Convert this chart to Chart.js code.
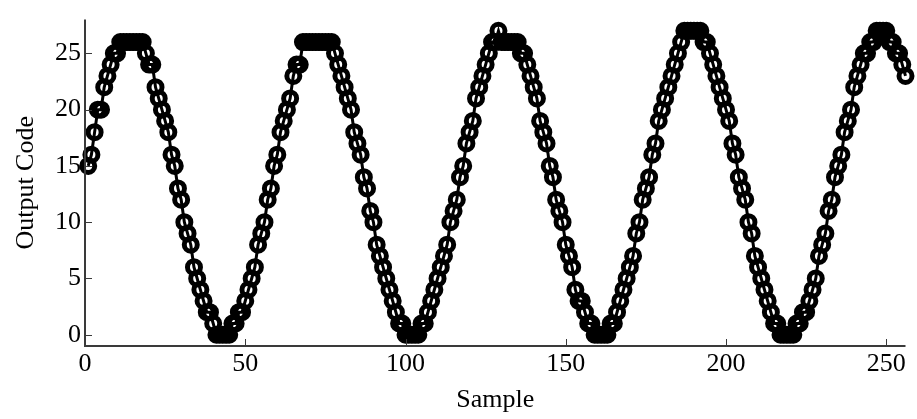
<!DOCTYPE html>
<html>
<head>
<meta charset="utf-8">
<script src="https://cdn.jsdelivr.net/npm/chart.js@4.4.0/dist/chart.umd.min.js"></script>
<style>
  html, body { margin: 0; padding: 0; background: #ffffff; }
  #wrap { width: 917px; height: 419px; }
</style>
</head>
<body>
<div id="wrap"><canvas id="c" width="917" height="419"></canvas></div>
<script>
// Output codes, samples 1..256
const codesA = [15,16,18,20,20,22,23,24,25,25,26,26,26,26];
const codesB = [26,26,26,26,25,24,24,22,21,20,19,18,16,15,13,12,10,9,8,6,5,4,3,2,2,1,0,0,0,0,0,1,1,2,2,3,4,5,6,8,9,10,12,13,15,16,18,19,20,21,23,24,24,26,26,26,26,26];
const codesC = [26,26,26,26,26,25,24,23,22,21,20,18,17,16,14,13,11,10,8,7,6,5,4,3,2,1,1,0,0,0,0,0,1,1,2,3,4,5,6,7,8,10,11,12,14,15,17,18,19,21,22,23,24,25,26,26,27,26,26];
const codesD = [26,26,26,26,25,25,24,23,22,21,19,18,17,15,14,12,11,10,8,7,6,4,3,3,2,1,1,0,0,0,0,0,1,1,2,3,4,5,6,7,9,10,12,13,14,16,17,19,20,21,22,23,24,25,26,27,27,27,27];
const codesE = [27,27,26,26,25,24,23,22,21,20,19,17,16,14,13,12,10,9,7,6,5,4,3,2,1,1,0,0,0,0,0,1,1,2,2,3,4,5,7,8,9,11,12,14,15,16,18,19,20,22,23,24,25,25,26,26,27,27,27,27,26,26,25,25,24,23];
const outputCode = [].concat(codesA, codesB, codesC, codesD, codesE);
const firstSample = 1;
const xTicks = [0, 50, 100, 150, 200, 250];
const yTicks = [0, 5, 10, 15, 20, 25];
const xRange = [0, 256];
const yRange = [-1, 28];

const points = outputCode.map((v, i) => ({ x: firstSample + i, y: v }));

const AXIS_COLOR = '#3a3a3a';
const FONT = "'Liberation Serif', 'Times New Roman', serif";

const inwardAxes = {
  id: 'inwardAxes',
  afterDatasetsDraw(chart) {
    const { ctx, chartArea: a, scales } = chart;
    ctx.save();
    ctx.strokeStyle = AXIS_COLOR;
    ctx.lineWidth = 1;
    const tl = 7;
    scales.x.ticks.forEach(t => {
      const px = Math.round(scales.x.getPixelForValue(t.value)) + 0.5;
      ctx.beginPath(); ctx.moveTo(px, a.bottom); ctx.lineTo(px, a.bottom - tl); ctx.stroke();
    });
    scales.y.ticks.forEach(t => {
      const py = Math.round(scales.y.getPixelForValue(t.value)) + 0.5;
      ctx.beginPath(); ctx.moveTo(a.left, py); ctx.lineTo(a.left + tl, py); ctx.stroke();
    });
    ctx.lineWidth = 2;
    ctx.beginPath();
    ctx.moveTo(a.left, a.top);
    ctx.lineTo(a.left, a.bottom);
    ctx.lineTo(a.right, a.bottom);
    ctx.stroke();
    ctx.restore();
  }
};

new Chart(document.getElementById('c'), {
  type: 'line',
  data: {
    datasets: [{
      label: 'Output Code',
      data: points,
      borderColor: '#000000',
      borderWidth: 3,
      pointRadius: 6.5,
      pointBorderWidth: 5,
      pointBorderColor: '#000000',
      pointBackgroundColor: 'rgba(0,0,0,0)',
      tension: 0,
      fill: false,
      clip: false
    }]
  },
  options: {
    responsive: false,
    animation: false,
    devicePixelRatio: 1,
    layout: { padding: { top: 7, right: 11, left: 0, bottom: 0 } },
    plugins: { legend: { display: false }, tooltip: { enabled: false } },
    scales: {
      x: {
        type: 'linear',
        min: xRange[0], max: xRange[1],
        grid: { display: false, drawTicks: false },
        border: { display: false },
        afterBuildTicks: s => { s.ticks = xTicks.map(v => ({ value: v })); },
        afterFit: s => { s.height = 73; },
        ticks: { color: '#000', font: { family: FONT, size: 26 }, padding: 3, maxRotation: 0, autoSkip: false },
        title: { display: true, text: 'Sample', color: '#000', font: { family: FONT, size: 26 }, padding: { top: 0, bottom: 3 } }
      },
      y: {
        type: 'linear',
        min: yRange[0], max: yRange[1],
        grid: { display: false, drawTicks: false },
        border: { display: false },
        afterBuildTicks: s => { s.ticks = yTicks.map(v => ({ value: v })); },
        afterFit: s => { s.width = 85; },
        ticks: { color: '#000', font: { family: FONT, size: 26 }, padding: 4, autoSkip: false },
        title: { display: true, text: 'Output Code', color: '#000', font: { family: FONT, size: 26 }, padding: { top: 11, bottom: 4 } }
      }
    }
  },
  plugins: [inwardAxes]
});
</script>
</body>
</html>
